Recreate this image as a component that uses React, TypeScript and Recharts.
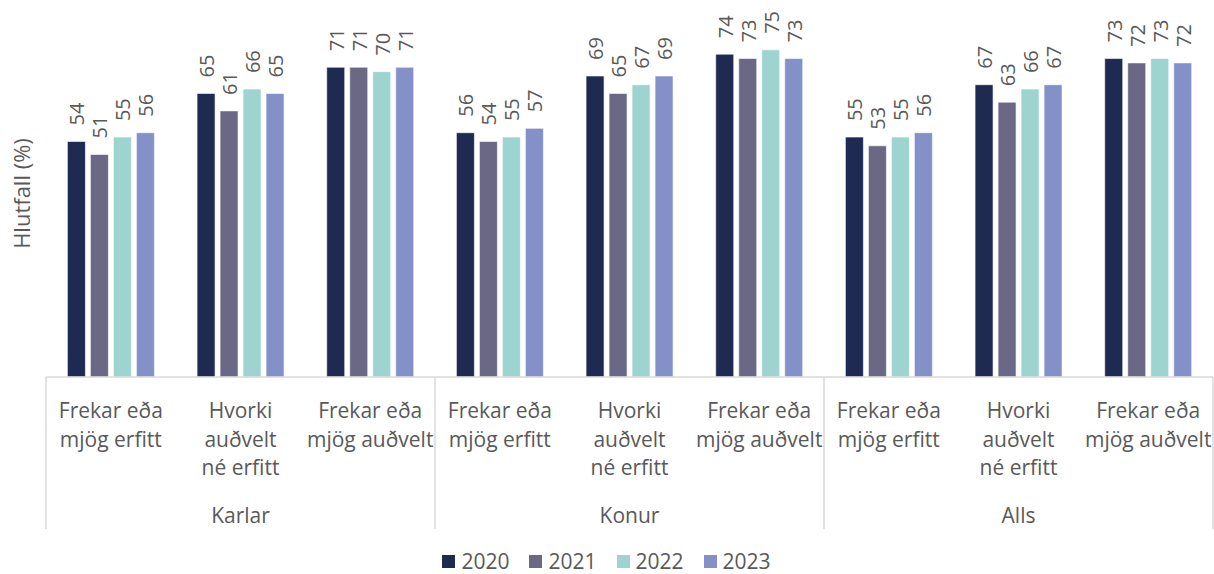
import { BarChart, Bar, XAxis, YAxis, Legend } from 'recharts'

const groups = ['Karlar', 'Konur', 'Alls']
const categories = [
  ['Frekar eða', 'mjög erfitt'],
  ['Hvorki', 'auðvelt', 'né erfitt'],
  ['Frekar eða', 'mjög auðvelt'],
]
const years = ['2020', '2021', '2022', '2023']

// order: Karlar x3, Konur x3, Alls x3
const v2020 = [54, 65, 71, 56, 69, 74, 55, 67, 73]
const v2021 = [51, 61, 71, 54, 65, 73, 53, 63, 72]
const v2022 = [55, 66, 70, 55, 67, 75, 55, 66, 73]
const v2023 = [56, 65, 71, 57, 69, 73, 56, 67, 72]

const COLORS = ['#1F2A52', '#6B6886', '#9DD4D0', '#8491C8']
const TEXT = '#595959'
const GRID = '#D9D9D9'
const FONT = '"Open Sans", sans-serif'

const W = 1214
const H = 574
const PLOT_LEFT = 46
const PLOT_RIGHT = 1213
const BASE_Y = 377
const Y_MAX = 80
const PLOT_H = 349
const CAT_AXIS_H = 106
const LEGEND_H = 26
const GROUP_AXIS_H = H - LEGEND_H - BASE_Y - CAT_AXIS_H
const SEP_BOTTOM = 529

const series = [v2020, v2021, v2022, v2023]

const rows = groups.flatMap((g, gi) =>
  categories.map((c, ci) => {
    const i = gi * 3 + ci
    const row: Record<string, string | number> = { id: `${g}-${ci}`, group: g, cat: ci }
    years.forEach((y, yi) => {
      row[y] = series[yi][i]
    })
    return row
  })
)

const BAND = (PLOT_RIGHT - PLOT_LEFT) / rows.length

function CategoryTick(props: any) {
  const { x, index } = props
  const lines = categories[index % categories.length]
  return (
    <text x={x} y={BASE_Y + 41} textAnchor="middle" fill={TEXT} fontSize={21} fontFamily={FONT}>
      {lines.map((l, i) => (
        <tspan key={i} x={x} dy={i === 0 ? 0 : 28.7}>
          {l}
        </tspan>
      ))}
    </text>
  )
}

function GroupTick(props: any) {
  const { x, index } = props
  const pos = index % categories.length
  return (
    <g>
      {pos === 0 && (
        <line x1={x - BAND / 2} x2={x - BAND / 2} y1={BASE_Y} y2={SEP_BOTTOM} stroke={GRID} strokeWidth={1.5} />
      )}
      {index === rows.length - 1 && (
        <line x1={x + BAND / 2} x2={x + BAND / 2} y1={BASE_Y} y2={SEP_BOTTOM} stroke={GRID} strokeWidth={1.5} />
      )}
      {pos === 1 && (
        <text x={x} y={523} textAnchor="middle" fill={TEXT} fontSize={21} fontFamily={FONT}>
          {rows[index].group as string}
        </text>
      )}
    </g>
  )
}

function ValueLabel(props: any) {
  const { x, y, width, value } = props
  const cx = x + width / 2 + 8
  const ty = y - 16
  return (
    <text
      x={cx}
      y={ty}
      transform={`rotate(-90 ${cx} ${ty})`}
      textAnchor="start"
      fill={TEXT}
      fontSize={20}
      fontFamily={FONT}
    >
      {value}
    </text>
  )
}

function YTitle(props: any) {
  const { viewBox } = props
  const cx = 21
  const cy = viewBox.y + viewBox.height / 2 - 9
  return (
    <text
      x={cx}
      y={cy}
      transform={`rotate(-90 ${cx} ${cy})`}
      textAnchor="middle"
      dominantBaseline="central"
      fill={TEXT}
      fontSize={22}
      fontFamily={FONT}
    >
      Hlutfall (%)
    </text>
  )
}

function LegendContent() {
  return (
    <div
      style={{
        display: 'flex',
        justifyContent: 'center',
        alignItems: 'center',
        height: LEGEND_H,
        gap: 20,
        fontFamily: FONT,
        fontSize: 21,
        lineHeight: `${LEGEND_H}px`,
        color: TEXT,
      }}
    >
      {years.map((y, i) => (
        <div key={y} style={{ display: 'flex', alignItems: 'center', gap: 6 }}>
          <div style={{ width: 13, height: 13, backgroundColor: COLORS[i] }} />
          <span>{y}</span>
        </div>
      ))}
    </div>
  )
}

export default function App() {
  return (
    <div style={{ position: 'absolute', left: 0, top: 0, width: W, height: H, background: '#fff' }}>
      <BarChart
        width={W}
        height={H}
        data={rows}
        margin={{ top: BASE_Y - PLOT_H, right: W - PLOT_RIGHT, bottom: 0, left: 0 }}
        barCategoryGap="16.5%"
        barGap={5}
      >
        <YAxis
          domain={[0, Y_MAX]}
          width={PLOT_LEFT}
          axisLine={false}
          tickLine={false}
          tick={false}
          label={<YTitle />}
        />
        <XAxis
          xAxisId="cat"
          dataKey="id"
          interval={0}
          height={CAT_AXIS_H}
          axisLine={{ stroke: GRID, strokeWidth: 1.5 }}
          tickLine={false}
          tick={<CategoryTick />}
        />
        <XAxis
          xAxisId="grp"
          dataKey="id"
          interval={0}
          height={GROUP_AXIS_H}
          axisLine={false}
          tickLine={false}
          tick={<GroupTick />}
        />
        <Legend verticalAlign="bottom" content={<LegendContent />} wrapperStyle={{ height: LEGEND_H }} />
        {years.map((y, i) => (
          <Bar
            key={y}
            xAxisId="cat"
            dataKey={y}
            fill={COLORS[i]}
            stroke="#ffffff"
            strokeWidth={0.6}
            isAnimationActive={false}
            label={<ValueLabel />}
          />
        ))}
      </BarChart>
    </div>
  )
}
